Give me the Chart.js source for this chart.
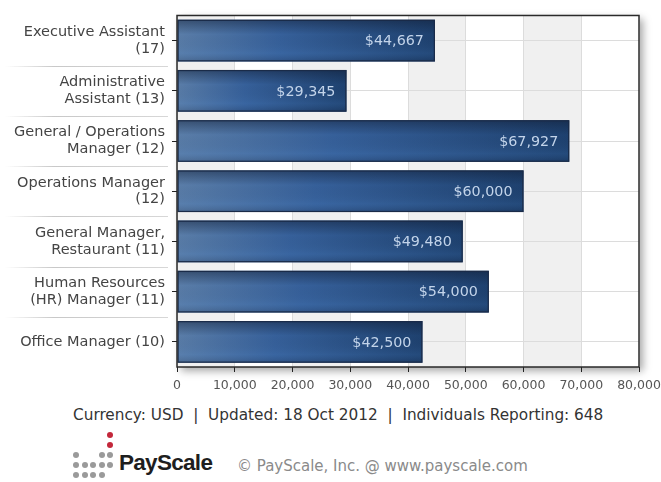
<!DOCTYPE html>
<html>
<head>
<meta charset="utf-8">
<script src="https://cdn.jsdelivr.net/npm/chart.js@4.4.1/dist/chart.umd.min.js"></script>
<style>
  body { margin: 0; background: #fff; width: 661px; height: 482px; overflow: hidden; font-family: "DejaVu Sans", sans-serif; }
  #wrap { position: relative; width: 661px; height: 400px; }
  #footer { position: absolute; top: 405px; left: 73px; white-space: nowrap; font-size: 15.3px; line-height: 20px; color: #333; }
  #logo { position: absolute; top: 430px; left: 70px; width: 50px; height: 50px; }
  #logo span { position: absolute; width: 6px; height: 6px; border-radius: 50%; background: #9a9a9a; }
  #logo span.red { background: #c3283b; }
  #brand { position: absolute; top: 450px; left: 119px; font-family: "Liberation Sans", Arial, sans-serif; font-weight: bold; font-size: 22.5px; line-height: 26px; color: #1e1e1e; letter-spacing: -0.7px; }
  #copy { position: absolute; top: 456px; left: 237px; white-space: nowrap; font-size: 15px; line-height: 20px; color: #8a8a8a; }
</style>
</head>
<body>
<div id="wrap"><canvas id="chart" width="661" height="400"></canvas></div>
<div id="footer">Currency: USD &nbsp;|&nbsp; Updated: 18 Oct 2012 &nbsp;|&nbsp; Individuals Reporting: 648</div>
<div id="logo"></div>
<div id="brand">PayScale</div>
<div id="copy">© PayScale, Inc. @ www.payscale.com</div>
<script>
const jobLabels = [
  ["Executive Assistant", "(17)"],
  ["Administrative", "Assistant (13)"],
  ["General / Operations", "Manager (12)"],
  ["Operations Manager", "(12)"],
  ["General Manager,", "Restaurant (11)"],
  ["Human Resources", "(HR) Manager (11)"],
  "Office Manager (10)",
];
const medianPay = [44667, 29345, 67927, 60000, 49480, 54000, 42500];
const xTicks = [0, 10000, 20000, 30000, 40000, 50000, 60000, 70000, 80000];

// logo dots (col, row, red?)
const logoDots = [
  [4, 0, 1], [4, 1, 1],
  [0, 2, 0], [3, 2, 0], [4, 2, 0],
  [0, 3, 0], [1, 3, 0], [2, 3, 0], [3, 3, 0], [4, 3, 0],
  [0, 4, 0], [1, 4, 0], [2, 4, 0], [3, 4, 0],
];
const logo = document.getElementById("logo");
logoDots.forEach(([c, r, red]) => {
  const s = document.createElement("span");
  if (red) s.className = "red";
  s.style.left = (3 + c * 8.6) + "px";
  s.style.top = (2 + r * 10) + "px";
  logo.appendChild(s);
});

const fmt = (v) => v.toLocaleString("en-US");

function barFill(ctx) {
  const chart = ctx.chart;
  const x = chart.scales.x;
  if (!chart.chartArea || !x || ctx.raw == null) return "#2b5486";
  const x0 = x.getPixelForValue(0);
  const x1 = x.getPixelForValue(ctx.raw);
  const g = chart.ctx.createLinearGradient(x0, 0, x1, 0);
  g.addColorStop(0, "#5a7da8");
  g.addColorStop(0.4, "#36609a");
  g.addColorStop(1, "#1e416f");
  return g;
}

const backdrop = {
  id: "backdrop",
  beforeDraw(chart) {
    const { ctx, chartArea: a, scales: { x, y } } = chart;
    ctx.save();
    ctx.shadowColor = "rgba(0,0,0,0.35)";
    ctx.shadowBlur = 8;
    ctx.shadowOffsetX = 4;
    ctx.shadowOffsetY = 4;
    ctx.fillStyle = "#fff";
    ctx.fillRect(a.left, a.top, a.right - a.left, a.bottom - a.top);
    ctx.restore();
    ctx.save();
    ctx.fillStyle = "#f0f0f0";
    for (let i = 0; i < xTicks.length - 1; i += 2) {
      const l = x.getPixelForValue(xTicks[i]);
      const r = x.getPixelForValue(xTicks[i + 1]);
      ctx.fillRect(l, a.top, r - l, a.bottom - a.top);
    }
    // separators between the category labels
    for (let i = 0; i < jobLabels.length - 1; i++) {
      const yy = Math.round((y.getPixelForValue(i) + y.getPixelForValue(i + 1)) / 2) + 0.5;
      const g = ctx.createLinearGradient(5, 0, 168, 0);
      g.addColorStop(0, "rgba(200,200,200,0)");
      g.addColorStop(0.3, "rgba(200,200,200,1)");
      g.addColorStop(1, "rgba(215,215,215,1)");
      ctx.strokeStyle = g;
      ctx.lineWidth = 1;
      ctx.beginPath();
      ctx.moveTo(5, yy);
      ctx.lineTo(168, yy);
      ctx.stroke();
    }
    ctx.restore();
  },
  afterDatasetsDraw(chart) {
    const { ctx, chartArea: a } = chart;
    const meta = chart.getDatasetMeta(0);
    ctx.save();
    meta.data.forEach((bar, i) => {
      const top = bar.y - bar.height / 2;
      const w = bar.x - bar.base;
      const g = ctx.createLinearGradient(0, top, 0, top + bar.height);
      g.addColorStop(0, "rgba(15,25,45,0.45)");
      g.addColorStop(0.35, "rgba(15,25,45,0)");
      g.addColorStop(0.8, "rgba(80,140,210,0.12)");
      g.addColorStop(1, "rgba(15,25,45,0.2)");
      ctx.fillStyle = g;
      ctx.fillRect(bar.base, top, w, bar.height);
      ctx.strokeStyle = "#1a2b48";
      ctx.lineWidth = 1.2;
      ctx.strokeRect(bar.base + 0.6, top + 0.6, w - 1.2, bar.height - 1.2);
      ctx.fillStyle = "#c3d4ea";
      ctx.font = "14.3px 'DejaVu Sans'";
      ctx.textAlign = "right";
      ctx.textBaseline = "middle";
      ctx.fillText("$" + fmt(medianPay[i]), bar.x - 11, bar.y + 1);
    });
    ctx.strokeStyle = "#2a2a2a";
    ctx.lineWidth = 1.5;
    ctx.strokeRect(a.left, a.top, a.right - a.left, a.bottom - a.top);
    ctx.restore();
  },
};

new Chart(document.getElementById("chart"), {
  type: "bar",
  data: {
    labels: jobLabels,
    datasets: [{
      data: medianPay,
      backgroundColor: barFill,
      borderWidth: 0,
      barPercentage: 0.83,
      categoryPercentage: 1,
    }],
  },
  options: {
    indexAxis: "y",
    responsive: false,
    animation: false,
    layout: { padding: { top: 10, right: 22, left: 0, bottom: 0 } },
    plugins: { legend: { display: false }, tooltip: { enabled: false } },
    scales: {
      x: {
        min: 0,
        max: 80000,
        afterBuildTicks: (s) => { s.ticks = xTicks.map((v) => ({ value: v })); },
        afterFit: (s) => { s.height = 33; s.paddingLeft = 0; s.paddingRight = 0; },
        border: { display: false },
        grid: { color: "#dcdcdc", tickColor: "#222", tickLength: 5, lineWidth: 1 },
        ticks: {
          color: "#555",
          font: { family: "DejaVu Sans", size: 12.5 },
          padding: 6,
          maxRotation: 0,
          callback: (v) => fmt(v),
        },
      },
      y: {
        afterFit: (s) => { s.width = 177; },
        border: { display: false },
        grid: { offset: false, color: "#dcdcdc", tickColor: "#222", tickLength: 5 },
        ticks: {
          color: "#444",
          font: { family: "DejaVu Sans", size: 14.5, lineHeight: 1.17 },
          padding: 7,
        },
      },
    },
  },
  plugins: [backdrop],
});
</script>
</body>
</html>
